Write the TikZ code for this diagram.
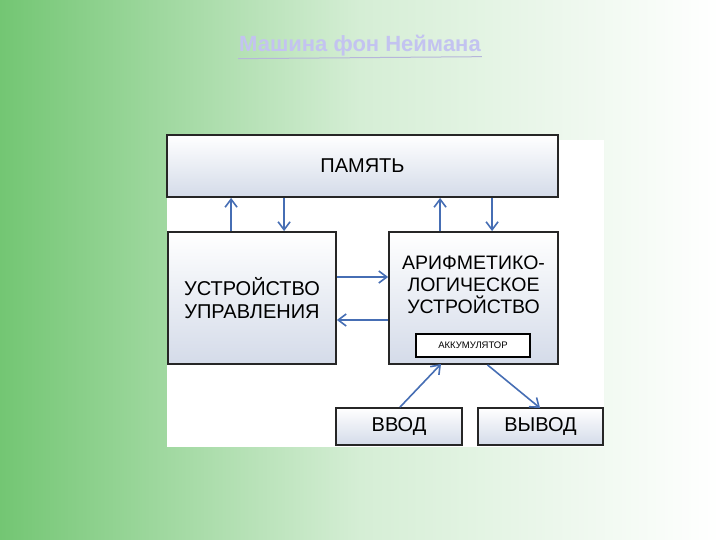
\documentclass[tikz,border=0pt]{standalone}
\usepackage{fontspec}
\setmainfont{Liberation Sans}
\usetikzlibrary{arrows.meta}
\definecolor{bgG}{RGB}{115,198,115}
\definecolor{boxB}{RGB}{212,219,233}
\definecolor{arr}{RGB}{70,110,180}
\definecolor{ttl}{RGB}{195,195,240}
\begin{document}
\begin{tikzpicture}[x=1pt,y=-1pt,
  blk/.style={draw=black!85,line width=1.8pt,top color=white,bottom color=boxB,inner sep=0pt,font=\fontsize{20}{23}\selectfont,align=center},
  ar/.style={draw=arr,line width=1.6pt,-{Straight Barb[length=8pt,width=12pt,line width=1.6pt]}}]
\useasboundingbox (0,0) rectangle (720,540);
\shade[left color=bgG,right color=white,middle color=bgG!30] (0,0) rectangle (720,540);
\shade[inner color=white,outer color=white,opacity=0] (0,0) rectangle (1,1);
\node[font=\bfseries\fontsize{22}{24}\selectfont,text=ttl,inner sep=1pt] (t) at (360,46) {Машина фон Неймана};
\draw[ttl!80!gray,line width=1pt] (t.south west) ++(0,1) -- ([yshift=1pt]t.south east);
\fill[white] (167,140) rectangle (604,447);
\node[blk,minimum width=391pt,minimum height=62pt] (mem) at (362.5,166) {ПАМЯТЬ};
\node[blk,minimum width=168pt,minimum height=132pt] (cu) at (252,298) {УСТРОЙСТВО\\УПРАВЛЕНИЯ};
\node[blk,minimum width=169pt,minimum height=132pt] (alu) at (473.5,298) {};
\node[font=\fontsize{19.5}{22}\selectfont,align=center] (alut) at (473.5,285) {АРИФМЕТИКО-\\ЛОГИЧЕСКОЕ\\УСТРОЙСТВО};
\node[draw=black,line width=1.5pt,fill=white,minimum width=114pt,minimum height=23pt,font=\fontsize{9.5}{10}\selectfont] (acc) at (473,345.5) {АККУМУЛЯТОР};
\node[blk,minimum width=126pt,minimum height=37pt] (in) at (399,426.5) {ВВОД};
\node[blk,minimum width=125pt,minimum height=37pt] (out) at (540.5,426.5) {ВЫВОД};
\draw[ar] (cu.south west |- cu.north) ++(64,0) coordinate (a1) -- (a1 |- mem.south);
\draw[ar] (mem.south west) ++(118,0) coordinate (a2) -- (a2 |- cu.north);
\draw[ar] (alu.north west) ++(52,0) coordinate (a3) -- (a3 |- mem.south);
\draw[ar] (mem.south west) ++(326,0) coordinate (a4) -- (a4 |- alu.north);
\draw[ar] (cu.east |- 0,277) coordinate (a5) -- (a5 -| alu.west);
\draw[ar] (alu.west |- 0,320) coordinate (a6) -- (a6 -| cu.east);
\draw[ar] (in.north) ++(1,0) coordinate (a7) -- (441,364) coordinate (a8);
\draw[ar] (alu.south) ++(14,0) coordinate (a9) -- (540,408) coordinate (a10);
\end{tikzpicture}
\end{document}
